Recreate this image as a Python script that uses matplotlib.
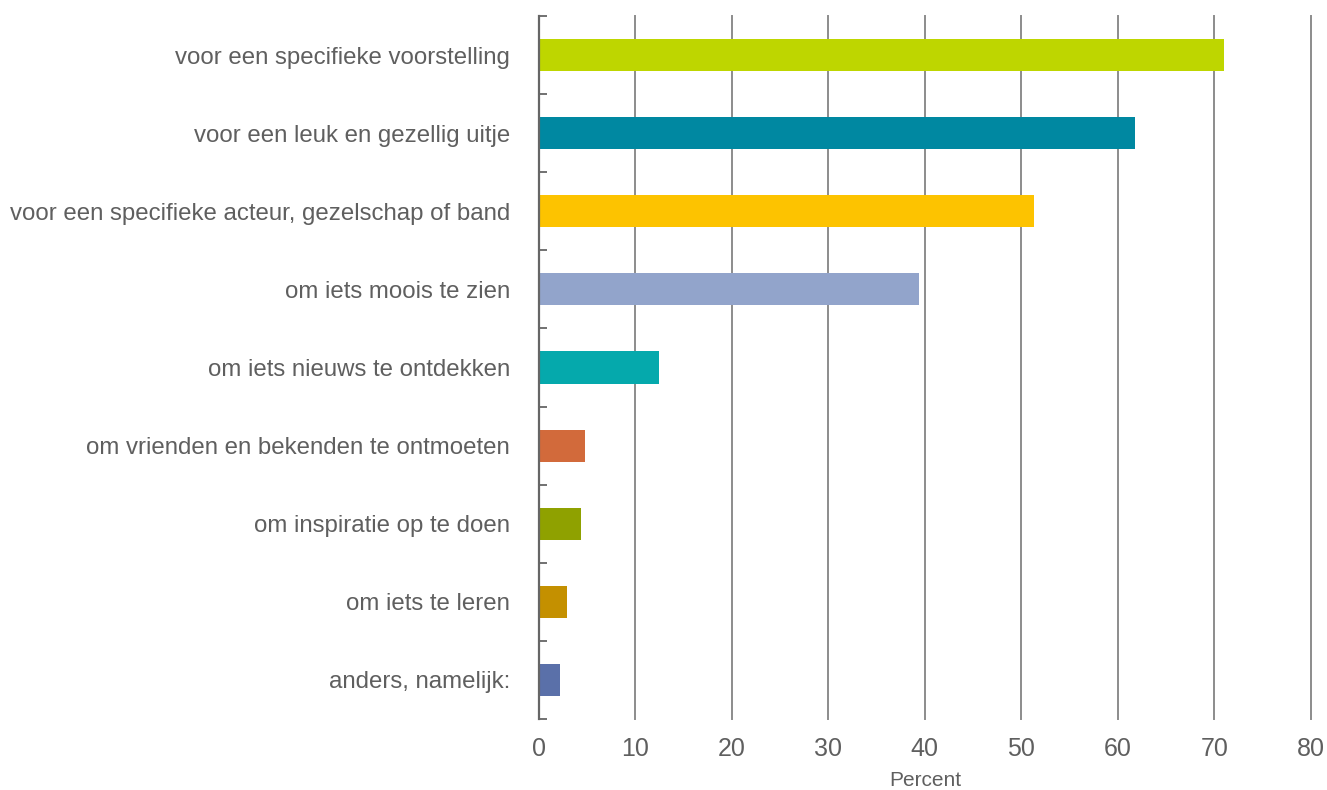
import numpy as np
import matplotlib.pyplot as plt
from matplotlib.ticker import FixedLocator

plt.rcParams['font.family'] = ['Liberation Sans', 'DejaVu Sans']

# Data (top to bottom as shown)
categories = [
    "voor een specifieke voorstelling",
    "voor een leuk en gezellig uitje",
    "voor een specifieke acteur, gezelschap of band",
    "om iets moois te zien",
    "om iets nieuws te ontdekken",
    "om vrienden en bekenden te ontmoeten",
    "om inspiratie op te doen",
    "om iets te leren",
    "anders, namelijk:",
]
values = [71.0, 61.8, 51.3, 39.4, 12.4, 4.8, 4.4, 2.9, 2.2]
colors = ["#BED600", "#0088A1", "#FDC300", "#92A4CB", "#05A9AC",
          "#D26A3B", "#8FA100", "#C49000", "#5A70A9"]

fig = plt.figure(figsize=(13.27, 7.9), dpi=100)
ax = fig.add_axes([0.4062, 0.0899, 0.5815, 0.8898])

n = len(categories)
y = np.arange(n)
ax.barh(y, values, height=0.41, color=colors, zorder=3)

ax.set_ylim(n - 0.5, -0.5)
ax.set_xlim(0, 80)
ax.set_yticks(y)
ax.set_yticklabels(categories, fontsize=17.3, color="#5f5f5f")
ax.tick_params(axis='y', which='major', length=0, pad=21)
ax.yaxis.set_minor_locator(FixedLocator(np.arange(-0.5, n, 1.0)))
ax.tick_params(axis='y', which='minor', direction='in', length=6, width=1.3, color="#666666")

ax.set_xticks(np.arange(0, 81, 10))
ax.tick_params(axis='x', length=0, labelsize=18, labelcolor="#5f5f5f", pad=13)
ax.xaxis.grid(True, color="#8c8c8c", linewidth=1.4, zorder=0)
for gl in ax.get_xgridlines():
    gl.set_clip_on(False)
ax.set_xlabel("Percent", fontsize=15, color="#5f5f5f", labelpad=7)

for s in ['top', 'right', 'bottom']:
    ax.spines[s].set_visible(False)
ax.spines['left'].set_color("#666666")
ax.spines['left'].set_linewidth(1.6)
ax.spines['left'].set_zorder(4)

fig.savefig("out.png", dpi=100)
